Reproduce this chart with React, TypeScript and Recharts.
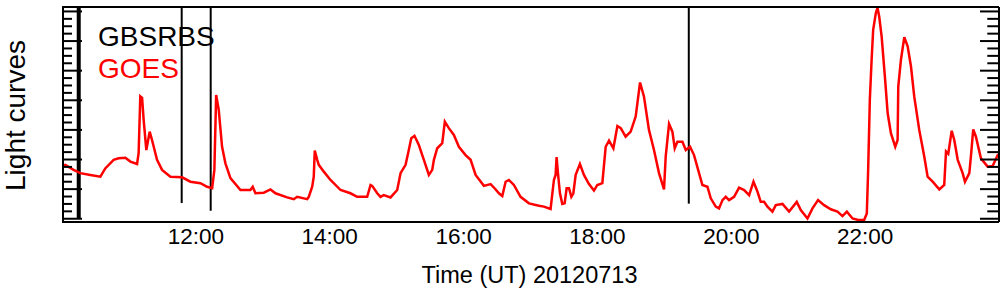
import React from 'react';
import { LineChart, Line, XAxis, YAxis, ReferenceLine, Legend, Label } from 'recharts';

const FONT = '"Liberation Sans", Arial, Helvetica, sans-serif';

// GOES light curve, minutes of day (UT) and flux (arbitrary log units)
const goesTime = [
  600, 603, 610.4, 616.4, 625.4, 634.4, 638.8, 646.3, 650.8, 656.8, 661.3, 667.3, 668.7, 670.2, 671.8,
  673.2, 675.6, 678.6, 680.7, 685.2, 689.7, 697.2, 707.7, 715.1, 724.1, 730.1, 734.6, 736.6, 738.2, 740.5,
  743.5, 746.5, 751, 760, 768.9, 771, 773.4, 780.9, 786.9, 791.4, 801.8, 807.8, 810.8, 819.8, 821.2,
  824.3, 825.7, 826.6, 828.8, 830.2, 834.7, 840.7, 849.7, 858.6, 864.6, 873.6, 876.6, 878.1, 882.6, 885.5,
  888.5, 894.5, 900.5, 903.5, 908, 910.9, 913.1, 916, 919.9, 924.4, 928.9, 931.9, 933.4, 936.4, 940.9,
  943.2, 946.8, 951.3, 955.8, 961.8, 966.3, 970.8, 978.2, 984.2, 987.8, 991.7, 994.7, 997.7, 1000.6, 1005.1,
  1011.1, 1018.6, 1027.6, 1032, 1038, 1039.6, 1041, 1042.5, 1043.4, 1044.6, 1046.4, 1048.5, 1050.6, 1052.4, 1054.5,
  1056.6, 1058.4, 1060.5, 1064.3, 1067.9, 1072.4, 1076.9, 1079.9, 1084.4, 1087.4, 1090.4, 1094.3, 1097.9, 1100.9, 1105.3,
  1109.8, 1114.3, 1118.2, 1121.7, 1126.2, 1130.7, 1135.2, 1139.7, 1141.2, 1144.2, 1147.2, 1149.3, 1151.7, 1156.2, 1159.2,
  1163, 1166.6, 1171.1, 1174.1, 1178.6, 1181.6, 1186.1, 1189, 1192.1, 1195, 1198, 1202.5, 1207, 1211.5, 1216,
  1219.9, 1223.5, 1226.4, 1229.4, 1232.4, 1236.9, 1239.9, 1245.9, 1251.8, 1258.7, 1262.3, 1268.3, 1272.8, 1277.8, 1283.2,
  1289.2, 1295.2, 1299.7, 1303.6, 1308.7, 1313.8, 1319.1, 1321.5, 1322.7, 1324.2, 1325.8, 1327.2, 1329.6, 1331.1, 1332.6,
  1334.8, 1337.7, 1340.2, 1343.1, 1347, 1349.1, 1349.7, 1352.1, 1355.1, 1358.1, 1361.1, 1364, 1368.5, 1373, 1376,
  1380.5, 1386.5, 1390.9, 1392.5, 1394.5, 1397.6, 1399.9, 1403, 1407.4, 1409.5, 1413.4, 1414.8, 1416.9, 1419.3, 1423.8,
  1429.8, 1434.3, 1438.8, 1440,
];
const goesFlux = [
  1.78, 1.82, 1.65, 1.54, 1.48, 1.42, 1.70, 1.99, 2.04, 2.06, 1.93, 1.85, 2.22, 4.13, 4.08,
  3.34, 2.32, 2.94, 2.66, 1.99, 1.65, 1.42, 1.40, 1.25, 1.20, 1.08, 1.03, 1.65, 4.18, 3.68,
  2.43, 1.87, 1.37, 0.97, 0.97, 1.08, 0.86, 0.88, 0.99, 0.86, 0.72, 0.66, 0.74, 0.66, 0.74,
  1.08, 1.42, 2.30, 1.99, 1.82, 1.59, 1.31, 0.97, 0.86, 0.74, 0.74, 1.14, 1.11, 0.86, 0.74,
  0.80, 0.72, 0.97, 1.54, 1.82, 2.32, 2.72, 2.80, 2.49, 1.99, 1.48, 1.65, 1.99, 2.38, 2.55,
  3.28, 3.06, 2.83, 2.43, 2.15, 1.99, 1.48, 1.11, 1.17, 1.03, 0.86, 0.77, 1.25, 1.31, 1.14,
  0.74, 0.52, 0.44, 0.41, 0.33, 0.86, 1.31, 1.48, 2.08, 1.54, 0.86, 0.50, 0.52, 1.03, 1.03,
  0.74, 0.86, 1.48, 1.85, 1.48, 1.17, 0.95, 1.14, 1.20, 2.43, 2.64, 2.38, 3.13, 3.06, 2.77,
  2.94, 3.45, 4.60, 4.13, 3.00, 2.32, 1.54, 0.99, 2.10, 3.20, 2.94, 2.38, 2.60, 2.60, 2.32,
  2.43, 2.15, 1.54, 1.14, 1.08, 0.69, 0.41, 0.35, 0.63, 0.74, 0.63, 0.74, 1.05, 0.97, 0.80,
  1.25, 0.91, 0.57, 0.57, 0.41, 0.24, 0.46, 0.50, 0.24, 0.57, 0.29, 0.01, 0.35, 0.63, 0.46,
  0.32, 0.24, 0.09, 0.24, 0.01, -0.04, -0.04, 0.18, 1.65, 4.01, 5.37, 6.38, 6.95, 7.12, 6.83,
  6.15, 4.80, 3.56, 2.89, 2.43, 2.66, 4.46, 5.37, 6.13, 5.82, 5.14, 4.13, 3.00, 2.10, 1.42,
  1.25, 0.99, 1.14, 2.27, 2.19, 2.97, 2.66, 1.99, 1.54, 1.25, 1.54, 2.10, 3.02, 2.77, 2.04,
  1.76, 1.78, 2.15, 2.18,
];

// GBSRBS burst markers: time and lower end of each marker
const burstTime = [615, 707.3, 733.3, 1161.9];
const burstLow = [0, 0.53, 0.27, 0.51];

const timeDomain = [600, 1440];
const fluxDomain = [-0.11, 7.15];
const labelTicks = [720, 840, 960, 1080, 1200, 1320];
const halfHourTicks = Array.from({ length: 27 }, (_, i) => 630 + i * 30);
const majorY = [0, 1, 2, 3, 4, 5, 6, 7];
const minorY = Array.from({ length: 28 }, (_, i) => i * 0.25).filter(v => v % 1 !== 0);

const data = goesTime.map((t, i) => ({ t, goes: goesFlux[i] }));

const fmtTime = (m: number) => `${Math.floor(m / 60)}:${String(m % 60).padStart(2, '0')}`;

// tick marks only, no labels
const noTick = () => <g />;

const LegendBox = () => (
  <div style={{ fontFamily: FONT, fontSize: 28, lineHeight: '32px' }}>
    <div style={{ color: '#000' }}>GBSRBS</div>
    <div style={{ color: '#ff0000' }}>GOES</div>
  </div>
);

const YTitle = (props: any) => {
  const vb = props.viewBox;
  const cx = vb.x - 38;
  const cy = vb.y + vb.height / 2 + 1;
  return (
    <text x={cx} y={cy} transform={`rotate(-90 ${cx} ${cy})`} textAnchor="middle"
      fontSize={28} fontFamily={FONT} fill="#000">Light curves</text>
  );
};

const XTitle = (props: any) => {
  const vb = props.viewBox;
  return (
    <text x={vb.x + vb.width / 2 - 1} y={vb.y + 61.3} textAnchor="middle"
      fontSize={23.5} fontFamily={FONT} fill="#000">Time (UT) 20120713</text>
  );
};

const frame = { stroke: '#000', strokeWidth: 2 };
const yTick = { stroke: '#000', strokeWidth: 2 };
const xTick = { stroke: '#000', strokeWidth: 1 };

export default function App() {
  return (
    <div style={{ position: 'absolute', left: 0, top: 0 }}>
      <LineChart width={1004} height={296} data={data} margin={{ top: 7, right: 5, bottom: 0, left: 62 }}>
        <XAxis xAxisId="main" type="number" dataKey="t" domain={timeDomain} allowDataOverflow
          ticks={labelTicks} interval={0} tickFormatter={fmtTime} height={74}
          tickLine={false} tickSize={0} tickMargin={6} axisLine={frame}
          tick={{ fontSize: 22.5, fontFamily: FONT, fill: '#000' }}>
          <Label content={XTitle} />
        </XAxis>
        <XAxis xAxisId="bMajor" type="number" domain={timeDomain} allowDataOverflow mirror height={1}
          ticks={labelTicks} interval={0} tick={noTick} tickSize={6} tickLine={xTick} axisLine={false} />
        <XAxis xAxisId="bMinor" type="number" domain={timeDomain} allowDataOverflow mirror height={1}
          ticks={halfHourTicks} interval={0} tick={noTick} tickSize={3.5} tickLine={xTick} axisLine={false} />
        <XAxis xAxisId="top" orientation="top" type="number" domain={timeDomain} allowDataOverflow mirror height={1}
          ticks={halfHourTicks} interval={0} tick={noTick} tickSize={5} tickLine={xTick} axisLine={frame} />

        <YAxis yAxisId="main" type="number" domain={fluxDomain} allowDataOverflow mirror width={1}
          ticks={majorY} interval={0} tick={noTick} tickSize={19} tickLine={yTick} axisLine={frame}>
          <Label content={YTitle} />
        </YAxis>
        <YAxis yAxisId="lMinor" type="number" domain={fluxDomain} allowDataOverflow mirror width={1}
          ticks={minorY} interval={0} tick={noTick} tickSize={10} tickLine={yTick} axisLine={false} />
        <YAxis yAxisId="rMajor" orientation="right" type="number" domain={fluxDomain} allowDataOverflow mirror width={1}
          ticks={majorY} interval={0} tick={noTick} tickSize={19} tickLine={yTick} axisLine={frame} />
        <YAxis yAxisId="rMinor" orientation="right" type="number" domain={fluxDomain} allowDataOverflow mirror width={1}
          ticks={minorY} interval={0} tick={noTick} tickSize={10.7} tickLine={yTick} axisLine={false} />

        {burstTime.map((t, i) => (
          <ReferenceLine key={t} xAxisId="main" yAxisId="main"
            segment={[{ x: t, y: fluxDomain[1] }, { x: t, y: burstLow[i] }]}
            stroke="#000" strokeWidth={i === 0 ? 4 : 2} />
        ))}

        <Line xAxisId="main" yAxisId="main" type="linear" dataKey="goes" stroke="#ff0000" strokeWidth={2.5}
          dot={false} isAnimationActive={false} />

        <Legend verticalAlign="middle" align="center" layout="horizontal"
          wrapperStyle={{ top: 21, left: 98, width: 200, height: 70 }} content={LegendBox} />
      </LineChart>
    </div>
  );
}
